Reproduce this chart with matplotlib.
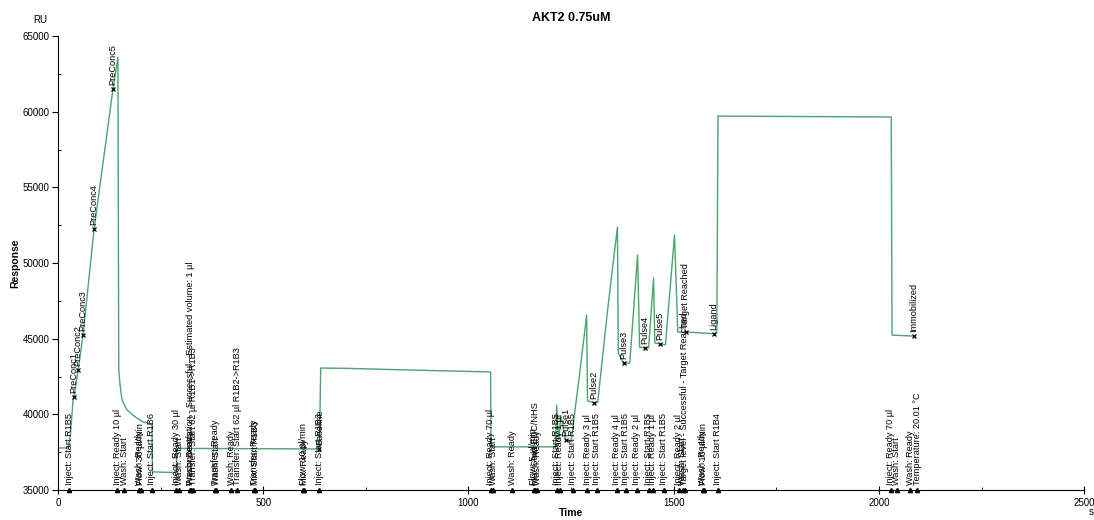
#!/usr/bin/python
# sensorgram plot: AKT2 0.75uM immobilization run

import matplotlib
matplotlib.use('Agg')
import matplotlib.pyplot as plt
from matplotlib.ticker import MultipleLocator

plt.rcParams['font.family'] = ['Liberation Sans', 'DejaVu Sans']

# BEGIN: DATA ################################################################
# response trace (time in s, response in RU)
time_s = [0, 25, 30, 37, 39, 49, 61, 88, 134, 146, 147, 148, 151, 156, 168,
          188, 207, 229, 230, 288, 290, 637, 640, 700, 900, 1054, 1055, 1212,
          1215, 1220, 1225, 1237, 1250, 1270, 1288, 1290, 1305, 1315, 1339,
          1363, 1365, 1378, 1393, 1412, 1417, 1429, 1439, 1451, 1454, 1466,
          1480, 1502, 1510, 1529, 1598, 1605, 1608, 2030, 2032, 2085]
resp_ru = [37780, 37780, 38600, 41000, 41150, 42900, 45240, 52250, 61500,
           63600, 53500, 43000, 42000, 40950, 40290, 39830, 39500, 39370,
           36200, 36150, 37750, 37710, 43060, 43040, 42900, 42800, 37850,
           37850, 40600, 38300, 39900, 38300, 38200, 42500, 46560, 40900,
           40750, 40800, 46900, 52380, 44050, 43390, 43390, 50530, 44450,
           44380, 44400, 49010, 44720, 44650, 44600, 51850, 45440, 45440,
           45330, 45400, 59710, 59650, 45240, 45170]

# labelled points on the trace
point_t = [39, 49, 61, 88, 134, 637, 1237, 1305, 1378, 1429, 1466, 1529,
           1598, 2085]
point_ru = [41150, 42900, 45240, 52250, 61500, 37710, 38300, 40750, 43390,
            44380, 44650, 45440, 45330, 45170]
point_lbl = ['PreConc1', 'PreConc2', 'PreConc3', 'PreConc4', 'PreConc5',
             'Baseline', 'Pulse1', 'Pulse2', 'Pulse3', 'Pulse4', 'Pulse5',
             'Target Reached', 'Ligand', 'Immobilized']

# instrument events along the time axis
event_t = [27, 144, 161, 198, 202, 229, 288, 295, 322, 324, 329, 383, 385,
           422, 437, 478, 480, 598, 600, 637, 1054, 1061, 1107, 1159, 1163,
           1168, 1215, 1222, 1254, 1290, 1312, 1361, 1383, 1410, 1439, 1449,
           1476, 1512, 1522, 1527, 1571, 1573, 1607, 2029, 2044, 2076, 2093]
event_lbl = ['Inject: Start R1B5', 'Inject: Ready 10 µl', 'Wash: Start',
             'Wash: Ready', 'Flow: 30 µl/min', 'Inject: Start R1B6',
             'Inject: Ready 30 µl', 'Wash: Start', 'Wash: Ready',
             'Preconcentration - Successful - Estimated volume: 1 µl',
             'Transfer: Start 62 µl R1B1->R1B3', 'Transfer: Ready',
             'Wash: Start', 'Wash: Ready', 'Transfer: Start 62 µl R1B2->R1B3',
             'Transfer: Ready', 'Mix: Start R1B3', 'Flow: 10 µl/min',
             'Mix: Ready', 'Inject: Start R1B3', 'Inject: Ready 70 µl',
             'Wash: Start', 'Wash: Ready', 'Flow: 5 µl/min',
             'Mix: Start EDC/NHS', 'Wash: Ready', 'Inject: Start R1B5',
             'Inject: Ready 1 µl', 'Inject: Start R1B5', 'Inject: Ready 3 µl',
             'Inject: Start R1B5', 'Inject: Ready 4 µl', 'Inject: Start R1B5',
             'Inject: Ready 2 µl', 'Inject: Start R1B5', 'Inject: Ready 1 µl',
             'Inject: Start R1B5', 'Inject: Ready 2 µl', 'Wash: Start',
             'Target level - Successful - Target Reached', 'Wash: Ready',
             'Flow: 10 µl/min', 'Inject: Start R1B4', 'Inject: Ready 70 µl',
             'Wash: Start', 'Wash: Ready', 'Temperature: 20.01 °C']
# END:   DATA ################################################################


# BEGIN: PLOT ################################################################
fig = plt.figure(figsize=(10.94, 5.2), dpi=100)
ax = fig.add_axes([0.053, 0.0577, 0.938, 0.873])

ax.plot(time_s, resp_ru, color='#4aa56e', lw=1.0, zorder=2)

# trace markers with their names written upwards
ax.plot(point_t, point_ru, 'x', color='black', ms=3.5, mew=0.9, zorder=3)
for t, r, lbl in zip(point_t, point_ru, point_lbl):
    ax.annotate(lbl, (t, r), xytext=(0, 3), textcoords='offset points',
                rotation=90, ha='center', va='bottom', fontsize=6.6)

# event markers sitting on the time axis
ax.plot(event_t, [35000] * len(event_t), '^', color='black', ms=3,
        clip_on=False, zorder=4)
for t, lbl in zip(event_t, event_lbl):
    ax.annotate(lbl, (t, 35000), xytext=(0, 3.5), textcoords='offset points',
                rotation=90, ha='center', va='bottom', fontsize=6.6)

ax.set_xlim(0, 2500)
ax.set_ylim(35000, 65000)
ax.xaxis.set_major_locator(MultipleLocator(500))
ax.xaxis.set_minor_locator(MultipleLocator(250))
ax.yaxis.set_major_locator(MultipleLocator(5000))
ax.yaxis.set_minor_locator(MultipleLocator(2500))
ax.tick_params(axis='x', which='major', direction='inout', length=6,
               labelsize=7, pad=3)
ax.tick_params(axis='x', which='minor', direction='in', length=2)
ax.tick_params(axis='y', which='major', direction='out', length=4,
               labelsize=7, pad=2)
ax.tick_params(axis='y', which='minor', direction='in', length=2)
for side in ['top', 'right']:
    ax.spines[side].set_visible(False)

ax.set_title('AKT2 0.75uM', fontsize=9, fontweight='bold', pad=11)
ax.set_xlabel('Time', fontsize=7.5, fontweight='bold', labelpad=0)
ax.set_ylabel('Response', fontsize=7.5, fontweight='bold', labelpad=2)
fig.text(0.037, 0.962, 'RU', fontsize=7, ha='center', va='center')
fig.text(0.997, 0.005, 's', fontsize=7, ha='center', va='bottom')

fig.savefig('out.png', dpi=100)
# END:   PLOT ################################################################
